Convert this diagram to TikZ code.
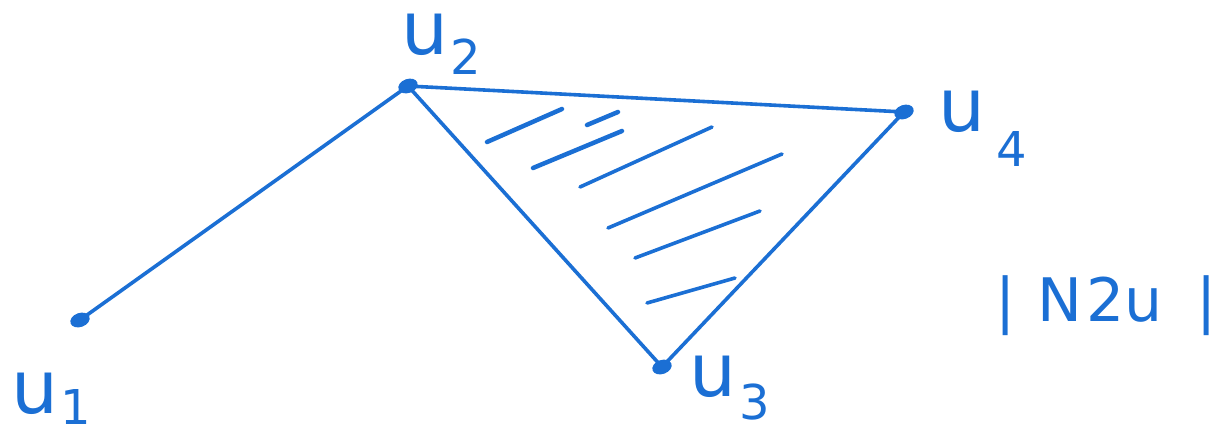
\documentclass[tikz,border=0pt]{standalone}
\usepackage{fontspec}
\setsansfont{DejaVu Sans}
\usetikzlibrary{shapes.geometric}
\begin{document}
\begin{tikzpicture}[x=1pt,y=-1pt,
  pen/.style={draw=ink, line width=3.6pt, line cap=round, line join=round},
  hatch/.style={draw=ink, line width=4.5pt, line cap=round},
  vdot/.style={ellipse, fill=ink, minimum width=20pt, minimum height=14pt, inner sep=0pt},
  lbl/.style={text=ink, inner sep=0pt, font=\sffamily\fontsize{74}{74}\selectfont},
  sub/.style={text=ink, inner sep=0pt, font=\sffamily\fontsize{48}{48}\selectfont},
]
\definecolor{ink}{HTML}{1B6FD4}
\useasboundingbox (0,0) rectangle (1221,440);
% vertices
\node[vdot, rotate=20] (u1) at (80,320) {};
\node[vdot, rotate=20] (u2) at (408,86) {};
\node[vdot, rotate=20] (u4) at (904,112) {};
\node[vdot, rotate=20] (u3) at (662,367) {};
% edges
\draw[pen] (u1.center) -- (u2.center);
\draw[pen] (u2.center) -- (u4.center);
\draw[pen] (u2.center) -- (u3.center);
\draw[pen] (u3.center) -- (u4.center);
% hatching
\draw[hatch] (487,142) -- (562,109);
\draw[hatch] (533,168) -- (622,131);
\draw[hatch] (587,125) -- (618,112);
\draw[hatch, line width=3.6pt] (580,187) -- (712,127);
\draw[hatch, line width=3.6pt] (608,228) -- (782,154);
\draw[hatch, line width=3.6pt] (635,258) -- (760,211);
\draw[hatch, line width=3.6pt] (647,303) -- (735,278);
% labels
\node[lbl] (l1) at (35,393) {u};
\node[sub] (l1s) at (76,407) {1};
\node[lbl] (l2) at (425,34) {u};
\node[sub] (l2s) at (466,57) {2};
\node[lbl] (l4) at (962,111) {u};
\node[sub] (l4s) at (1012,149) {4};
\node[lbl] (l3) at (713,376) {u};
\node[sub] (l3s) at (755,402) {3};
\node[text=ink, inner sep=0pt, font=\sffamily\fontsize{60}{60}\selectfont] (n) at (1106,306) {|\hspace{22pt}N\hspace{4pt}2u\hspace{34pt}|};
\end{tikzpicture}
\end{document}
